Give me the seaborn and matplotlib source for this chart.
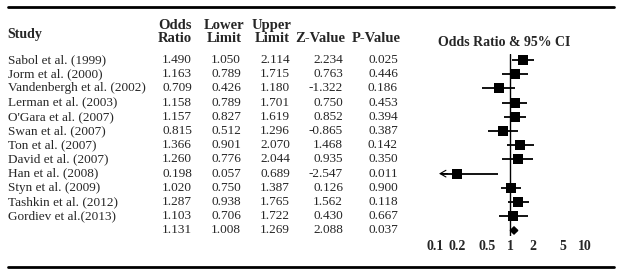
import numpy as np
import pandas as pd
import seaborn as sns
import matplotlib.pyplot as plt
from matplotlib.lines import Line2D
from matplotlib.transforms import blended_transform_factory

studies = ["Sabol et al. (1999)", "Jorm et al. (2000)", "Vandenbergh et al. (2002)",
           "Lerman et al. (2003)", "O'Gara et al. (2007)", "Swan et al. (2007)",
           "Ton et al. (2007)", "David et al. (2007)", "Han et al. (2008)",
           "Styn et al. (2009)", "Tashkin et al. (2012)", "Gordiev et al.(2013)"]
odds = [1.490, 1.163, 0.709, 1.158, 1.157, 0.815, 1.366, 1.260, 0.198, 1.020, 1.287, 1.103]
lower = [1.050, 0.789, 0.426, 0.789, 0.827, 0.512, 0.901, 0.776, 0.057, 0.750, 0.938, 0.706]
upper = [2.114, 1.715, 1.180, 1.701, 1.619, 1.296, 2.070, 2.044, 0.689, 1.387, 1.765, 1.722]
zval = [2.234, 0.763, -1.322, 0.750, 0.852, -0.865, 1.468, 0.935, -2.547, 0.126, 1.562, 0.430]
pval = [0.025, 0.446, 0.186, 0.453, 0.394, 0.387, 0.142, 0.350, 0.011, 0.900, 0.118, 0.667]
summary = {"odds": 1.131, "lower": 1.008, "upper": 1.269, "z": 2.088, "p": 0.037}
ticks = [0.1, 0.2, 0.5, 1, 2, 5, 10]
tick_labels = ["0.1", "0.2", "0.5", "1", "2", "5", "10"]

df = pd.DataFrame({"study": studies, "odds": odds, "lower": lower, "upper": upper,
                   "z": zval, "p": pval})
df["row"] = np.arange(len(df))
sum_row = len(df)

sns.set_theme(style="white")
plt.rcParams['font.family'] = ['Liberation Serif', 'DejaVu Serif']

W, H = 621, 275
fig = plt.figure(figsize=(W / 100, H / 100), dpi=100)

def px(x, y):
    return x / W, 1 - y / H

# forest axes: x log scale, y = row index
ax = fig.add_axes([435 / W, 1 - 236 / H, 150 / W, 182 / H])
ax.set_xscale("log")
ax.set_xlim(0.1, 10)
ax.set_ylim(12.39, -0.42)

x_floor = 0.113  # where truncated CIs end with an arrow
for _, r in df.iterrows():
    if r["lower"] < 0.1:
        ax.hlines(r["row"], x_floor * 1.05, r["upper"], color="black", lw=1.3)
        ax.annotate("", xy=(x_floor, r["row"]), xytext=(x_floor * 1.3, r["row"]),
                    arrowprops=dict(arrowstyle="->,head_length=0.35,head_width=0.2",
                                    color="black", lw=0.8, shrinkA=0, shrinkB=0),
                    annotation_clip=False)
    else:
        ax.hlines(r["row"], r["lower"], r["upper"], color="black", lw=1.3)
sns.scatterplot(data=df, x="odds", y="row", marker="s", s=44, color="black",
                linewidth=0, ax=ax, zorder=3, clip_on=False, legend=False)
h = 0.25
ax.fill([summary["lower"], summary["odds"], summary["upper"], summary["odds"]],
        [sum_row, sum_row - h, sum_row, sum_row + h], color="black", zorder=3,
        clip_on=False)
ax.axvline(1, color="black", lw=1.0, zorder=2)

ax.set_xticks(ticks)
ax.set_xticklabels(tick_labels, fontweight="bold", fontsize=10)
ax.minorticks_off()
ax.tick_params(axis="x", length=0, pad=3)
ax.set_yticks([])
ax.set_xlabel("")
ax.set_ylabel("")
for s in ax.spines.values():
    s.set_visible(False)
ax.patch.set_alpha(0)

# table text
tr = blended_transform_factory(fig.transFigure, ax.transData)
fs = 9.5
cols = [(192, "odds"), (241, "lower"), (290, "upper"), (343, "z"), (398, "p")]
for _, r in df.iterrows():
    y = r["row"]
    ax.text(8 / W, y, r["study"], transform=tr, ha="left", va="center", fontsize=fs)
    for xr, key in cols:
        ax.text(xr / W, y, f"{r[key]:.3f}", transform=tr, ha="right", va="center",
                fontsize=fs)
for xr, key in cols:
    ax.text(xr / W, sum_row, f"{summary[key]:.3f}", transform=tr, ha="right",
            va="center", fontsize=fs)

# headers
hf = dict(fontweight="bold", fontsize=10.5)
fig.text(*px(7, 35), "Study", ha="left", va="center", fontweight="bold", fontsize=10)
fig.text(*px(175, 32), "Odds\nRatio", ha="center", va="center", linespacing=1.0, **hf)
fig.text(*px(224, 32), "Lower\nLimit", ha="center", va="center", linespacing=1.0, **hf)
fig.text(*px(272, 32), "Upper\nLimit", ha="center", va="center", linespacing=1.0, **hf)
fig.text(*px(320, 38), "Z-Value", ha="center", va="center", **hf)
fig.text(*px(376, 38), "P-Value", ha="center", va="center", **hf)
fig.text(*px(504, 42), "Odds Ratio & 95% CI", ha="center", va="center",
         fontweight="bold", fontsize=10)

# rules
for y, lw in [(7, 2.0), (267, 2.0)]:
    fig.add_artist(Line2D([8 / W, 614 / W], [1 - y / H] * 2, color="black", lw=lw))

fig.savefig("out.png", dpi=100, facecolor="white")
